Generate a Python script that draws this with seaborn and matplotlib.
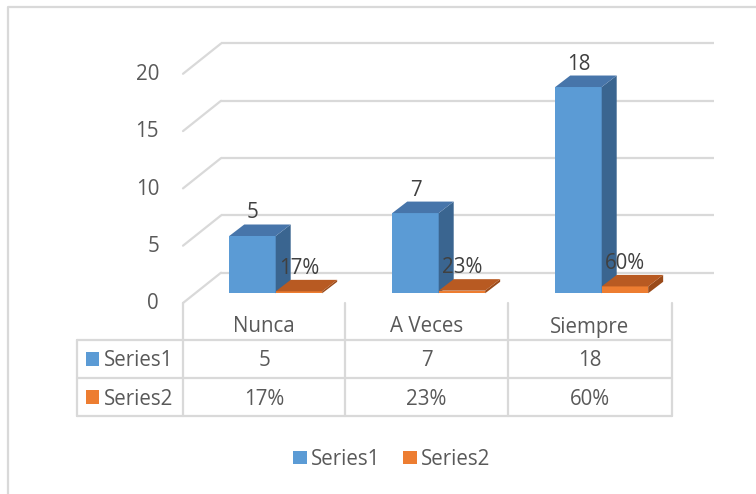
import numpy as np
import pandas as pd
import matplotlib
matplotlib.use("Agg")
import matplotlib.pyplot as plt
import seaborn as sns
from matplotlib.patches import Polygon, Rectangle
from matplotlib.lines import Line2D
from matplotlib.transforms import offset_copy

# ---------------- data ----------------
categories = ["Nunca", "A Veces", "Siempre"]
series_names = ["Series1", "Series2"]
series1 = [5, 7, 18]
series2 = [0.17, 0.23, 0.60]
series1_labels = ["5", "7", "18"]
series2_labels = ["17%", "23%", "60%"]
yticks = [0, 5, 10, 15, 20]

# ---------------- style ----------------
BLUE = "#5B9BD5"
BLUE_TOP = "#4775AA"
BLUE_SIDE = "#3A6590"
ORANGE = "#ED7D31"
ORANGE_TOP = "#B85A22"
ORANGE_SIDE = "#9A4A19"
GRID = "#D9D9D9"
TXT = "#595959"
LBL = "#404040"

sns.set_theme(style="white")
plt.rcParams["font.family"] = ["Open Sans", "DejaVu Sans"]
FS = 14.8
TDY = 3  # text vertical correction in px (down)

W, H = 756, 494
fig = plt.figure(figsize=(W / 100, H / 100), dpi=100)
ax = fig.add_axes([0, 0, 1, 1])

# pixel layout helpers (pixel -> data)
X0, XS = 275.7, 163.0      # px of category 0 centre, px per category
Y0, YS = 293.3, 11.46      # px of value 0 (bar base), px per unit


def X(px):
    return (px - X0) / XS


def Y(py):
    return (Y0 - py) / YS


def F(px, py):
    return (px / W, 1 - (py + TDY) / H)


def FR(px, py):
    return (px / W, 1 - py / H)


df = pd.DataFrame({
    "cat": categories * 2,
    "val": series1 + series2,
    "series": [series_names[0]] * 3 + [series_names[1]] * 3,
})

sns.barplot(data=df, x="cat", y="val", hue="series", palette=[BLUE, ORANGE],
            width=0.57, saturation=1, ax=ax, legend=False, linewidth=0,
            edgecolor="none", errorbar=None)

ax.set_xlim(X(0), X(W))
ax.set_ylim(Y(H), Y(0))
ax.axis("off")

# ---------------- walls / gridlines ----------------
front_dy = Y(303) - Y(Y0)     # front plane relative to bar base (data units)
back_dy = Y(272.7) - Y(Y0)    # back wall relative to bar base
for v in yticks:
    ax.plot([X(221), X(714)], [v + back_dy, v + back_dy], color=GRID, lw=1.6,
            zorder=1, solid_capstyle="butt")
    ax.plot([X(183), X(221)], [v + front_dy, v + back_dy], color=GRID, lw=1.6,
            zorder=1)
    ax.text(X(159), v + front_dy + 0.2 - TDY / YS, str(v), ha="right", va="center",
            fontsize=FS, color=TXT)

# ---------------- 3D faces ----------------
ddx = 15.0 / XS
ddy = 11.5 / YS
face_cols = [(BLUE, BLUE_TOP, BLUE_SIDE), (ORANGE, ORANGE_TOP, ORANGE_SIDE)]
labels_all = [series1_labels, series2_labels]
for si, cont in enumerate(ax.containers):
    front, top, side = face_cols[si]
    z = 3 + si
    for bi, p in enumerate(cont.patches):
        x0, y0 = p.get_x(), p.get_y()
        w, h = p.get_width(), p.get_height()
        p.set_zorder(z)
        ax.add_patch(Polygon([(x0 + w, y0), (x0 + w + ddx, y0 + ddy),
                              (x0 + w + ddx, y0 + h + ddy), (x0 + w, y0 + h)],
                             closed=True, facecolor=side, edgecolor="none", zorder=z))
        ax.add_patch(Polygon([(x0, y0 + h), (x0 + w, y0 + h),
                              (x0 + w + ddx, y0 + h + ddy), (x0 + ddx, y0 + h + ddy)],
                             closed=True, facecolor=top, edgecolor="none", zorder=z))
        tr = offset_copy(ax.transData, fig=fig, x=0, y=26 - TDY, units="dots")
        ax.text(x0 + w / 2, y0 + h, labels_all[si][bi], transform=tr,
                ha="center", va="center", fontsize=FS, color=LBL, zorder=10)

# ---------------- data table ----------------
col_x = [183, 345, 508, 672]
row_y = [340, 378, 416]
ft = fig.transFigure
for cx in col_x:
    fig.add_artist(Line2D([cx / W, cx / W], [1 - 303 / H, 1 - 416 / H],
                          color=GRID, lw=1.6, transform=ft))
fig.add_artist(Line2D([77 / W, 77 / W], [1 - 340 / H, 1 - 416 / H],
                      color=GRID, lw=1.6, transform=ft))
for ry in row_y:
    fig.add_artist(Line2D([77 / W, 672 / W], [1 - ry / H, 1 - ry / H],
                          color=GRID, lw=1.6, transform=ft))

centers = [(col_x[i] + col_x[i + 1]) / 2 for i in range(3)]
for i, c in enumerate(categories):
    fig.text(*F(centers[i], 324), c, ha="center", va="center", fontsize=FS, color=TXT)
rows = [series1_labels, series2_labels]
row_c = [358, 396]
for r in range(2):
    for i in range(3):
        fig.text(*F(centers[i], row_c[r]), rows[r][i], ha="center", va="center",
                 fontsize=FS, color=TXT)
    fig.add_artist(Rectangle(FR(86, row_c[r] + 8), 13 / W, 14 / H,
                             facecolor=[BLUE, ORANGE][r], edgecolor="none",
                             transform=ft))
    fig.text(*F(104, row_c[r]), series_names[r], ha="left", va="center",
             fontsize=FS, color=TXT)

# ---------------- legend ----------------
leg_sq = [293, 403]
for r in range(2):
    fig.add_artist(Rectangle(FR(leg_sq[r], 464), 14 / W, 13 / H,
                             facecolor=[BLUE, ORANGE][r], edgecolor="none",
                             transform=ft))
    fig.text(*F(leg_sq[r] + 18, 456), series_names[r], ha="left", va="center",
             fontsize=FS, color=TXT)

# ---------------- outer frame ----------------
fig.add_artist(Line2D([8 / W, 8 / W, 1.0], [0.0, 1 - 7 / H, 1 - 7 / H],
                      color=GRID, lw=1.6, transform=ft))

fig.savefig("out.png", dpi=100, facecolor="white")
